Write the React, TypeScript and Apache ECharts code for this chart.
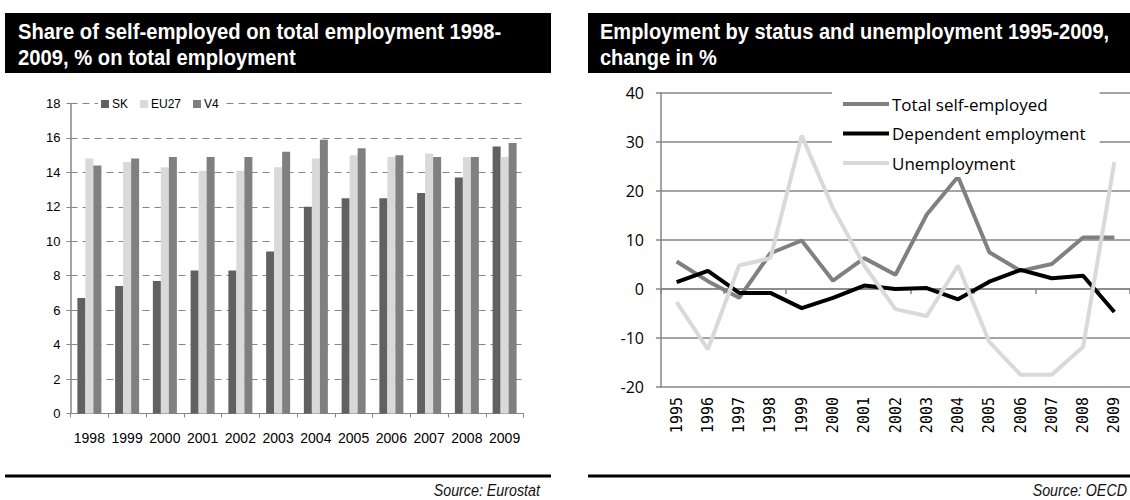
import React, { useEffect, useRef } from "react";
import * as echarts from "echarts";

const barYears = ["1998", "1999", "2000", "2001", "2002", "2003", "2004", "2005", "2006", "2007", "2008", "2009"];
const skValues = [6.7, 7.4, 7.7, 8.3, 8.3, 9.4, 12.0, 12.5, 12.5, 12.8, 13.7, 15.5];
const eu27Values = [14.8, 14.6, 14.3, 14.1, 14.1, 14.3, 14.8, 15.0, 14.9, 15.1, 14.9, 14.9];
const v4Values = [14.4, 14.8, 14.9, 14.9, 14.9, 15.2, 15.9, 15.4, 15.0, 14.9, 14.9, 15.7];
const barTicks = [0, 2, 4, 6, 8, 10, 12, 14, 16, 18];

const lineYears = ["1995", "1996", "1997", "1998", "1999", "2000", "2001", "2002", "2003", "2004", "2005", "2006", "2007", "2008", "2009"];
const selfEmployed = [5.6, 1.6, -1.8, 7.3, 9.9, 1.7, 6.3, 2.9, 15.2, 22.9, 7.5, 3.7, 5.1, 10.5, 10.5];
const dependentEmployment = [1.4, 3.7, -0.8, -0.8, -3.9, -1.8, 0.7, 0.0, 0.2, -2.1, 1.5, 3.9, 2.2, 2.7, -4.7];
const unemployment = [-2.7, -12.3, 4.8, 6.3, 31.3, 16.5, 4.8, -4.1, -5.5, 4.8, -10.8, -17.5, -17.5, -11.8, 25.9];
const lineTicks = [-20, -10, 0, 10, 20, 30, 40];

const leftTitle = "Share of self-employed on total employment 1998-\n2009, % on total employment";
const rightTitle = "Employment by status and unemployment 1995-2009,\nchange in %";

const arial = "'Liberation Sans', Arial, sans-serif";
const calibri = "'Open Sans', Lato, sans-serif";

export default function App() {
  const ref = useRef<HTMLDivElement>(null);
  useEffect(() => {
    if (!ref.current) return;
    const chart = echarts.init(ref.current, null, { renderer: "svg" });
    chart.setOption({
      animation: false,
      backgroundColor: "#ffffff",
      grid: [
        { left: 70.5, top: 103.5, width: 453, height: 310 },
        { left: 661, top: 93, width: 474, height: 294 },
      ],
      legend: [
        {
          data: ["SK", "EU27", "V4"],
          left: 98,
          top: 96,
          orient: "horizontal",
          icon: "rect",
          itemWidth: 8,
          itemHeight: 8,
          itemGap: 12,
          padding: [2, 3, 2, 3],
          backgroundColor: "#ffffff",
          textStyle: { fontFamily: arial, fontSize: 12, color: "#000", padding: [0, 0, 0, -2] },
        },
        {
          data: ["Total self-employed", "Dependent employment", "Unemployment"],
          left: 832,
          top: 90,
          orient: "vertical",
          icon: "rect",
          itemWidth: 46,
          itemHeight: 4,
          itemGap: 9.5,
          padding: [4, 14, 4, 11],
          backgroundColor: "#ffffff",
          textStyle: { fontFamily: calibri, fontSize: 17, color: "#000", lineHeight: 20, padding: [0, 0, 0, -2] },
        },
      ],
      xAxis: [
        {
          type: "category",
          gridIndex: 0,
          data: barYears,
          axisLine: { lineStyle: { color: "#868686", width: 1 } },
          axisTick: { show: true, length: 4, lineStyle: { color: "#868686" } },
          axisLabel: { interval: 0, fontFamily: arial, fontSize: 14, color: "#000", margin: 17 },
        },
        {
          type: "category",
          gridIndex: 1,
          data: lineYears,
          axisLine: { onZero: true, lineStyle: { color: "#868686", width: 1.5 } },
          axisTick: { show: true, length: 5, lineStyle: { color: "#868686", width: 1.5 } },
          axisLabel: { show: false },
        },
        {
          type: "category",
          gridIndex: 1,
          data: lineYears,
          position: "bottom",
          axisLine: { show: false, onZero: false },
          axisTick: { show: false },
          axisLabel: {
            interval: 0,
            rotate: 90,
            fontFamily: "'DejaVu Sans Mono', monospace",
            fontSize: 15,
            color: "#000",
            margin: 10,
          },
        },
      ],
      yAxis: [
        {
          type: "value",
          gridIndex: 0,
          min: barTicks[0],
          max: barTicks[barTicks.length - 1],
          interval: 2,
          axisLine: { show: true, lineStyle: { color: "#868686", width: 1.5 } },
          axisTick: { show: true, length: 4, lineStyle: { color: "#868686" } },
          axisLabel: { fontFamily: arial, fontSize: 13, color: "#000", margin: 10 },
          splitLine: { show: true, lineStyle: { color: "#868686", type: [7, 5], width: 1 } },
        },
        {
          type: "value",
          gridIndex: 1,
          min: lineTicks[0],
          max: lineTicks[lineTicks.length - 1],
          interval: 10,
          axisLine: { show: true, lineStyle: { color: "#868686", width: 1.5 } },
          axisTick: { show: true, length: 5, lineStyle: { color: "#868686", width: 1.5 } },
          axisLabel: { fontFamily: calibri, fontSize: 16, color: "#000", margin: 17 },
          splitLine: { show: true, lineStyle: { color: "#868686", width: 1.5 } },
        },
      ],
      series: [
        { name: "SK", type: "bar", xAxisIndex: 0, yAxisIndex: 0, data: skValues, barWidth: 8, barGap: "0%", itemStyle: { color: "#616161" } },
        { name: "EU27", type: "bar", xAxisIndex: 0, yAxisIndex: 0, data: eu27Values, barWidth: 8, barGap: "0%", itemStyle: { color: "#d9d9d9" } },
        { name: "V4", type: "bar", xAxisIndex: 0, yAxisIndex: 0, data: v4Values, barWidth: 8, barGap: "0%", itemStyle: { color: "#808080" } },
        {
          name: "Total self-employed", type: "line", xAxisIndex: 1, yAxisIndex: 1, data: selfEmployed,
          symbol: "none", lineStyle: { color: "#808080", width: 4 }, itemStyle: { color: "#808080" },
        },
        {
          name: "Dependent employment", type: "line", xAxisIndex: 1, yAxisIndex: 1, data: dependentEmployment,
          symbol: "none", lineStyle: { color: "#000000", width: 4 }, itemStyle: { color: "#000000" },
        },
        {
          name: "Unemployment", type: "line", xAxisIndex: 1, yAxisIndex: 1, data: unemployment,
          symbol: "none", lineStyle: { color: "#d9d9d9", width: 4 }, itemStyle: { color: "#d9d9d9" },
        },
      ],
      graphic: [
        { type: "rect", shape: { x: 5, y: 13, width: 546, height: 60 }, style: { fill: "#000" }, z: 10 },
        {
          type: "text", x: 18, y: 18, z: 11, scaleX: 0.92,
          style: { text: leftTitle, fill: "#fff", font: `bold 22px ${arial}`, lineHeight: 26 },
        },
        { type: "rect", shape: { x: 588, y: 13, width: 542, height: 60 }, style: { fill: "#000" }, z: 10 },
        {
          type: "text", x: 600, y: 18, z: 11, scaleX: 0.91,
          style: { text: rightTitle, fill: "#fff", font: `bold 22px ${arial}`, lineHeight: 26 },
        },
        { type: "line", shape: { x1: 5, y1: 476, x2: 551, y2: 476 }, style: { stroke: "#000", lineWidth: 3 } },
        { type: "line", shape: { x1: 588, y1: 476, x2: 1130, y2: 476 }, style: { stroke: "#000", lineWidth: 3 } },
        {
          type: "text", x: 540, y: 490, scaleX: 0.84,
          style: { text: "Source: Eurostat", fill: "#111", font: `italic 17px ${arial}`, textAlign: "right", textVerticalAlign: "middle" },
        },
        {
          type: "text", x: 1127, y: 490, scaleX: 0.84,
          style: { text: "Source: OECD", fill: "#111", font: `italic 17px ${arial}`, textAlign: "right", textVerticalAlign: "middle" },
        },
      ],
    });
    return () => chart.dispose();
  }, []);
  return (
    <div
      ref={ref}
      style={{ position: "absolute", left: 0, top: 0, width: 1130, height: 500, background: "#fff" }}
    />
  );
}
